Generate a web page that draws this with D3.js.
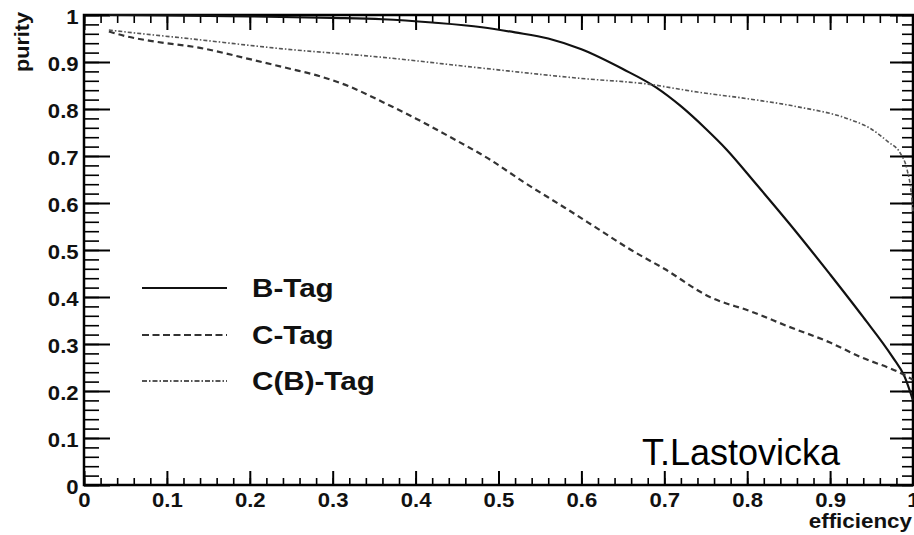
<!DOCTYPE html>
<html>
<head>
<meta charset="utf-8">
<script src="https://cdn.jsdelivr.net/npm/d3@7/dist/d3.min.js"></script>
<style>
  html, body { margin: 0; padding: 0; background: #fff; }
  svg { display: block; }
  text { font-family: "Liberation Sans", Arial, Helvetica, sans-serif; }
</style>
</head>
<body>
<svg id="chart" width="914" height="535"></svg>
<script>
// Tagging performance: purity versus efficiency
const bTagEff = [0.03, 0.10, 0.20, 0.30, 0.36, 0.42, 0.48, 0.52, 0.56, 0.60, 0.65, 0.69, 0.72, 0.75, 0.775, 0.81, 0.85, 0.90, 0.94, 0.975, 0.99, 1.0];
const bTagPur = [1.0, 0.999, 0.997, 0.994, 0.991, 0.984, 0.974, 0.963, 0.950, 0.927, 0.885, 0.846, 0.806, 0.758, 0.714, 0.642, 0.558, 0.448, 0.357, 0.273, 0.23, 0.18];

const cTagEff = [0.03, 0.05, 0.08, 0.14, 0.20, 0.25, 0.28, 0.32, 0.36, 0.40, 0.44, 0.49, 0.53, 0.58, 0.62, 0.66, 0.70, 0.755, 0.805, 0.85, 0.90, 0.936, 0.984, 1.0];
const cTagPur = [0.965, 0.955, 0.945, 0.93, 0.906, 0.885, 0.872, 0.848, 0.815, 0.78, 0.742, 0.692, 0.645, 0.59, 0.545, 0.50, 0.46, 0.40, 0.369, 0.337, 0.303, 0.273, 0.239, 0.224];

const cbTagEff = [0.03, 0.06, 0.12, 0.24, 0.36, 0.48, 0.60, 0.68, 0.74, 0.80, 0.86, 0.92, 0.95, 0.97, 0.985, 0.993, 0.998, 1.0];
const cbTagPur = [0.968, 0.962, 0.951, 0.928, 0.91, 0.887, 0.865, 0.853, 0.836, 0.822, 0.805, 0.78, 0.757, 0.73, 0.705, 0.67, 0.62, 0.58];

const seriesNames = ["B-Tag", "C-Tag", "C(B)-Tag"];
const xTickValues = [0, 0.1, 0.2, 0.3, 0.4, 0.5, 0.6, 0.7, 0.8, 0.9, 1];
const yTickValues = [0, 0.1, 0.2, 0.3, 0.4, 0.5, 0.6, 0.7, 0.8, 0.9, 1];
const xTitle = "efficiency";
const yTitle = "purity";
const credit = "T.Lastovicka";

const svg = d3.select("#chart");
const plotL = 84, plotR = 913, plotT = 15, plotB = 485;
const x = d3.scaleLinear().domain([0, 1]).range([plotL, plotR]);
const y = d3.scaleLinear().domain([0, 1]).range([plotB, plotT]);
const minor = d3.range(0, 1.0001, 0.02);
const fmt = d3.format("~g");

function styleAxis(g, width) {
  g.select(".domain").remove();
  g.selectAll(".tick line").attr("stroke", "#000").attr("stroke-width", width);
}

// bottom axis: ticks point into the frame
const gxMinor = svg.append("g").attr("transform", `translate(0,${plotB})`)
  .call(d3.axisBottom(x).tickValues(minor).tickSizeInner(-7).tickSizeOuter(0).tickFormat(""));
styleAxis(gxMinor, 1.6);
const gx = svg.append("g").attr("transform", `translate(0,${plotB})`)
  .call(d3.axisBottom(x).tickValues(xTickValues).tickSizeInner(-14).tickSizeOuter(0).tickPadding(7).tickFormat(fmt));
styleAxis(gx, 2);
gx.selectAll("text")
  .attr("font-size", 20.5).attr("font-weight", "bold").attr("fill", "#111")
  .attr("transform", "scale(1.08,1)")
  .attr("x", 0);

// top axis
const gtMinor = svg.append("g").attr("transform", `translate(0,${plotT})`)
  .call(d3.axisTop(x).tickValues(minor).tickSizeInner(-8).tickSizeOuter(0).tickFormat(""));
styleAxis(gtMinor, 1.6);
const gt = svg.append("g").attr("transform", `translate(0,${plotT})`)
  .call(d3.axisTop(x).tickValues(xTickValues).tickSizeInner(-15).tickSizeOuter(0).tickFormat(""));
styleAxis(gt, 2);

// left axis
const gyMinor = svg.append("g").attr("transform", `translate(${plotL},0)`)
  .call(d3.axisLeft(y).tickValues(minor).tickSizeInner(-15).tickSizeOuter(0).tickFormat(""));
styleAxis(gyMinor, 1.6);
const gy = svg.append("g").attr("transform", `translate(${plotL},0)`)
  .call(d3.axisLeft(y).tickValues(yTickValues).tickSizeInner(-26).tickSizeOuter(0).tickPadding(5).tickFormat(fmt));
styleAxis(gy, 2);
gy.selectAll("text")
  .attr("font-size", 20.5).attr("font-weight", "bold").attr("fill", "#111")
  .attr("dy", "0.4em")
  .attr("transform", "scale(1.08,1)");

// right axis
const grMinor = svg.append("g").attr("transform", `translate(${plotR},0)`)
  .call(d3.axisLeft(y).tickValues(minor).tickSizeInner(11).tickSizeOuter(0).tickFormat(""));
styleAxis(grMinor, 1.6);
const gr = svg.append("g").attr("transform", `translate(${plotR},0)`)
  .call(d3.axisLeft(y).tickValues(yTickValues).tickSizeInner(23).tickSizeOuter(0).tickFormat(""));
styleAxis(gr, 2);

// frame
svg.append("rect")
  .attr("x", plotL).attr("y", plotT)
  .attr("width", plotR - plotL).attr("height", plotB - plotT)
  .attr("fill", "none").attr("stroke", "#000").attr("stroke-width", 2.5);

// curves
const styles = [
  { color: "#111", width: 2.2, dash: null },
  { color: "#333", width: 2.2, dash: "6,4" },
  { color: "#555", width: 1.6, dash: "4,2,1.5,2" }
];
const series = [
  bTagEff.map((e, i) => [e, bTagPur[i]]),
  cTagEff.map((e, i) => [e, cTagPur[i]]),
  cbTagEff.map((e, i) => [e, cbTagPur[i]])
];
const line = d3.line().x(d => x(d[0])).y(d => y(d[1])).curve(d3.curveMonotoneX);
series.forEach((pts, i) => {
  svg.append("path")
    .attr("d", line(pts))
    .attr("fill", "none")
    .attr("stroke", styles[i].color)
    .attr("stroke-width", styles[i].width)
    .attr("stroke-dasharray", styles[i].dash);
});

// legend
const legendRows = [288, 335, 381];
seriesNames.forEach((name, i) => {
  svg.append("line")
    .attr("x1", 142).attr("x2", 227)
    .attr("y1", legendRows[i]).attr("y2", legendRows[i])
    .attr("stroke", styles[i].color)
    .attr("stroke-width", i === 0 ? 2.2 : 1.8)
    .attr("stroke-dasharray", i === 1 ? "7,3.5" : (i === 2 ? "5,2,1.5,2" : null));
  svg.append("text")
    .attr("transform", `translate(252,${legendRows[i] + 9}) scale(1.14,1)`)
    .attr("font-size", 26).attr("font-weight", "bold").attr("fill", "#111")
    .text(name);
});

// axis titles
svg.append("text")
  .attr("transform", "translate(912,528) scale(1.12,1)")
  .attr("text-anchor", "end")
  .attr("font-size", 20).attr("font-weight", "bold").attr("fill", "#111")
  .text(xTitle);
svg.append("text")
  .attr("transform", "translate(29,12) rotate(-90) scale(1.08,1)")
  .attr("text-anchor", "end")
  .attr("font-size", 20).attr("font-weight", "bold").attr("fill", "#111")
  .text(yTitle);

// credit
svg.append("text")
  .attr("x", 642).attr("y", 465)
  .attr("font-size", 36).attr("fill", "#000")
  .text(credit);
</script>
</body>
</html>
